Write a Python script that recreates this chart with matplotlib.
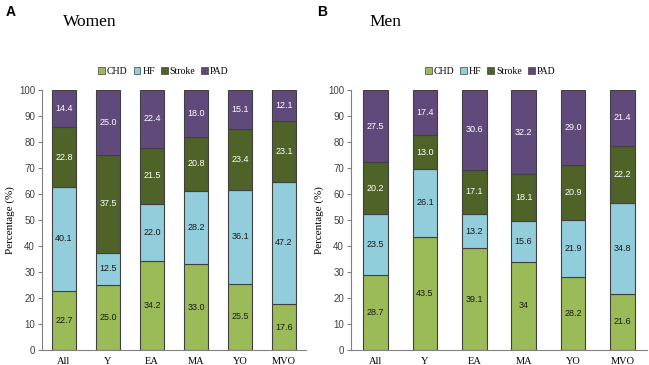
import numpy as np
import matplotlib.pyplot as plt
from matplotlib.patches import Patch

groups = ['All', 'Y', 'EA', 'MA', 'YO', 'MVO']
series = ['CHD', 'HF', 'Stroke', 'PAD']
colors = ['#9BBB59', '#92CDDC', '#4F6228', '#604A7B']
text_colors = ['#1a1a1a', '#1a1a1a', 'white', 'white']

women_chd = [22.7, 25.0, 34.2, 33.0, 25.5, 17.6]
women_hf = [40.1, 12.5, 22.0, 28.2, 36.1, 47.2]
women_stroke = [22.8, 37.5, 21.5, 20.8, 23.4, 23.1]
women_pad = [14.4, 25.0, 22.4, 18.0, 15.1, 12.1]

men_chd = [28.7, 43.5, 39.1, 34.0, 28.2, 21.6]
men_hf = [23.5, 26.1, 13.2, 15.6, 21.9, 34.8]
men_stroke = [20.2, 13.0, 17.1, 18.1, 20.9, 22.2]
men_pad = [27.5, 17.4, 30.6, 32.2, 29.0, 21.4]
men_chd_labels = ['28.7', '43.5', '39.1', '34', '28.2', '21.6']

serif = 'Liberation Serif'
sans = 'Liberation Sans'

fig = plt.figure(figsize=(6.49, 3.65), dpi=100)
ax1 = fig.add_axes([0.0647, 0.0411, 0.4068, 0.7123])
ax2 = fig.add_axes([0.5408, 0.0411, 0.4560, 0.7123])


def draw(ax, data, width, labels_override=None, legend_x=0.47):
    x = np.arange(len(groups))
    bottom = np.zeros(len(groups))
    for i, vals in enumerate(data):
        vals = np.array(vals)
        bars = ax.bar(x, vals, width, bottom=bottom, color=colors[i],
                      edgecolor='#404040', linewidth=0.8, zorder=2)
        if labels_override is not None and i == 0:
            labs = labels_override
        else:
            labs = [f'{v:.1f}' for v in vals]
        ax.bar_label(bars, labels=labs, label_type='center', color=text_colors[i],
                     fontsize=6.5, family=sans)
        bottom = bottom + vals
    ax.set_xlim(-0.5, len(groups) - 0.5)
    ax.set_ylim(0, 100)
    ax.set_yticks(range(0, 101, 10))
    ax.set_xticks(x)
    ax.set_xticklabels(groups, family=serif, fontsize=7.5)
    for t in ax.get_yticklabels():
        t.set_family(sans)
        t.set_fontsize(7)
        t.set_color('#404040')
    ax.tick_params(axis='y', length=3, color='#808080', pad=2)
    ax.tick_params(axis='x', length=0, pad=5)
    for s in ['top', 'right']:
        ax.spines[s].set_visible(False)
    ax.spines['left'].set_color('#808080')
    ax.spines['bottom'].set_color('#808080')
    ax.set_ylabel('Percentage (%)', family=serif, fontsize=8, labelpad=3)
    handles = [Patch(facecolor=c, edgecolor='#404040', linewidth=0.5) for c in colors]
    ax.legend(handles, series, loc='center', bbox_to_anchor=(legend_x, 1.073),
              ncol=4, frameon=False, handlelength=0.7, handleheight=0.7,
              handletextpad=0.2, columnspacing=0.6,
              prop={'family': serif, 'size': 7})


draw(ax1, [women_chd, women_hf, women_stroke, women_pad], 0.55, legend_x=0.46)
draw(ax2, [men_chd, men_hf, men_stroke, men_pad], 0.5, men_chd_labels, legend_x=0.47)

fig.text(0.008, 0.985, 'A', fontsize=10, fontweight='bold', family=sans, va='top')
fig.text(0.488, 0.985, 'B', fontsize=10, fontweight='bold', family=sans, va='top')
fig.text(0.097, 0.962, 'Women', fontsize=12.5, family=serif, va='top')
fig.text(0.569, 0.962, 'Men', fontsize=12.5, family=serif, va='top')

fig.savefig('out.png', dpi=100)
